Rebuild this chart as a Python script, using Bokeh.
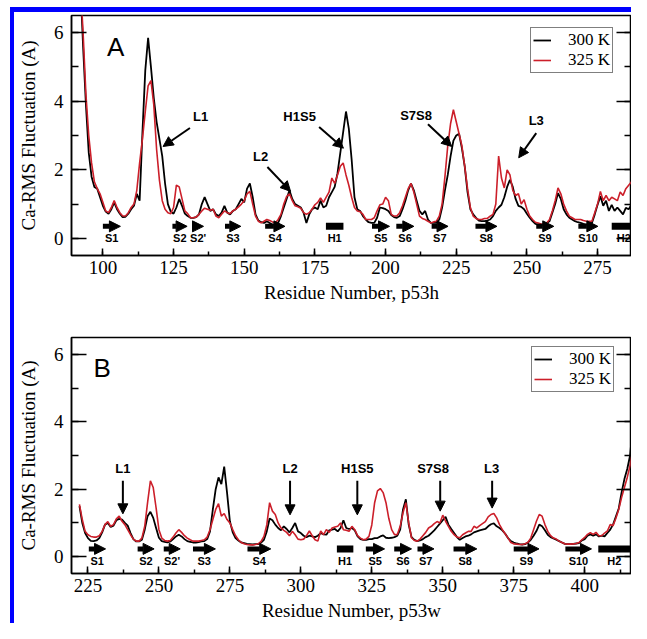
from bokeh.plotting import figure
from bokeh.layouts import column, row
from bokeh.models import (ColumnDataSource, Range1d, LinearAxis, SingleIntervalTicker,
                          Legend, LegendItem, Arrow, NormalHead, CustomJSTickFormatter, Spacer)
from bokeh.core.properties import value
from bokeh.embed import file_html
from bokeh.resources import INLINE

# ---------------- data: panel A (p53h) ----------------
res_a = list(range(92, 291))
rmsf_a_300 = [
    7.5, 5.6, 3.9, 2.5, 1.8, 1.5, 1.45, 1.2,
    0.95, 0.78, 0.72, 0.85, 1.05, 0.85, 0.72, 0.62, 0.63, 0.72,
    0.85, 0.95, 1.3, 1.1, 3.1, 4.9, 5.85, 5.0, 4.1, 3.4,
    2.9, 2.4, 1.6, 1.0, 0.78, 0.72, 0.9, 1.15, 0.95, 0.72,
    0.65, 0.6, 0.6, 0.62, 0.7, 1.0, 1.2, 1.0, 0.8, 0.85,
    0.7, 0.65, 0.75, 0.95, 0.75, 0.7, 0.8, 0.85, 1.0, 1.15,
    1.05, 1.45, 1.6, 1.2, 0.7, 0.52, 0.47, 0.45, 0.5, 0.45,
    0.4, 0.4, 0.45, 0.65, 0.9, 1.15, 1.4, 1.15, 1.0, 0.95,
    0.9, 0.75, 0.45, 0.7, 0.85, 0.9, 0.85, 1.1, 0.9, 0.95,
    1.2, 1.35, 1.5, 1.9, 2.5, 3.1, 3.7, 3.2, 2.3, 1.2,
    0.85, 0.8, 0.65, 0.55, 0.47, 0.45, 0.45, 0.6, 0.9, 0.88,
    0.85, 0.8, 0.68, 0.62, 0.6, 0.65, 0.85, 1.1, 1.4, 1.6,
    1.4, 1.1, 0.8, 0.7, 0.8, 0.55, 0.45, 0.45, 0.45, 0.55,
    0.9, 1.4, 1.85, 2.4, 2.85, 3.0, 3.05, 2.63, 2.1, 1.35,
    0.85, 0.7, 0.6, 0.52, 0.5, 0.5, 0.52, 0.55, 0.65, 0.8,
    0.9, 0.98, 1.2, 1.5, 1.71, 1.5, 1.15, 0.95, 0.92, 0.85,
    0.72, 0.6, 0.5, 0.42, 0.4, 0.4, 0.4, 0.45, 0.5, 0.75,
    1.0, 1.32, 1.15, 0.85, 0.7, 0.6, 0.55, 0.5, 0.47, 0.45,
    0.42, 0.4, 0.42, 0.45, 0.7, 0.98, 1.23, 0.95, 1.1, 0.8,
    0.98, 0.8, 0.9, 0.8, 0.7, 0.89, 0.85, 0.98, 1.4, 1.9, 2.3,
]
rmsf_a_325 = [
    7.5, 6.0, 4.2, 3.0, 2.2, 1.65, 1.45, 1.3,
    1.05, 0.8, 0.75, 0.9, 1.1, 0.9, 0.75, 0.65, 0.65, 0.75,
    0.9, 1.0, 1.4, 2.2, 2.9, 3.7, 4.45, 4.6, 3.9, 2.6,
    1.7, 1.1, 0.85, 0.75, 0.72, 0.9, 1.55, 1.5, 1.15, 0.8,
    0.72, 0.6, 0.6, 0.62, 0.7, 0.8, 0.88, 0.85, 0.82, 0.85,
    0.65, 0.6, 0.7, 0.8, 0.75, 0.72, 0.8, 0.85, 0.92, 1.0,
    1.1, 1.3, 1.37, 1.0, 0.65, 0.5, 0.45, 0.5, 0.55, 0.52,
    0.48, 0.45, 0.55, 0.7, 1.0, 1.22, 1.3, 1.1, 0.95, 0.92,
    0.88, 0.75, 0.7, 0.75, 0.85, 0.98, 1.05, 1.18, 1.05, 1.2,
    1.35, 1.76, 1.6, 1.85, 2.1, 2.2, 1.85, 1.55, 1.2, 0.9,
    0.8, 0.78, 0.7, 0.55, 0.55, 0.55, 0.6, 0.8, 0.98, 1.0,
    1.2, 1.1, 0.7, 0.65, 0.65, 0.75, 0.95, 1.2, 1.45, 1.6,
    1.35, 1.0, 0.65, 0.58, 0.55, 0.5, 0.45, 0.48, 0.5, 0.65,
    1.0, 1.8, 2.7, 3.35, 3.75, 3.4, 3.05, 2.7, 2.1, 1.45,
    0.9, 0.65, 0.58, 0.55, 0.55, 0.58, 0.58, 0.65, 0.7, 1.0,
    2.4, 1.76, 1.47, 2.0, 1.85, 1.4, 1.25, 1.3, 1.0, 1.13,
    0.85, 0.65, 0.55, 0.47, 0.45, 0.42, 0.4, 0.45, 0.55, 0.8,
    1.1, 1.47, 1.3, 1.0, 0.8, 0.65, 0.6, 0.55, 0.55, 0.55,
    0.52, 0.5, 0.5, 0.5, 0.75, 1.0, 1.37, 1.1, 1.25, 1.1,
    1.2, 1.15, 1.1, 1.35, 1.25, 1.45, 1.55, 1.65, 2.2, 2.6, 2.6,
]

# ---------------- data: panel B (p53w) ----------------
res_b = list(range(222, 419))
rmsf_b_300 = [
    1.5, 1.0, 0.7, 0.55, 0.47, 0.46, 0.48, 0.55,
    0.72, 0.95, 1.0, 0.88, 0.92, 1.08, 1.12, 1.1, 1.0, 0.92,
    0.7, 0.52, 0.45, 0.45, 0.5, 0.8, 1.2, 1.33, 1.15, 0.85,
    0.56, 0.46, 0.44, 0.42, 0.45, 0.52, 0.6, 0.65, 0.6, 0.52,
    0.46, 0.44, 0.42, 0.42, 0.43, 0.45, 0.46, 0.52, 0.75, 1.4,
    2.0, 2.35, 2.15, 2.67, 1.9, 1.05, 0.72, 0.55, 0.48, 0.42,
    0.4, 0.38, 0.37, 0.36, 0.37, 0.37, 0.42, 0.5, 0.75, 1.13,
    1.08, 0.95, 0.85, 0.78, 0.9, 0.82, 0.72, 0.85, 1.0, 0.75,
    0.7, 0.62, 0.58, 0.62, 0.6, 0.58, 0.62, 0.7, 0.66, 0.65,
    0.78, 0.8, 0.82, 0.75, 0.85, 1.08, 0.85, 0.82, 0.85, 0.78,
    0.6, 0.52, 0.5, 0.5, 0.52, 0.52, 0.55, 0.55, 0.6, 0.63,
    0.56, 0.55, 0.56, 0.58, 0.62, 0.8, 1.4, 1.7, 0.95, 0.58,
    0.5, 0.46, 0.48, 0.52, 0.58, 0.62, 0.7, 0.78, 0.88, 0.98,
    1.08, 1.18, 0.95, 0.82, 0.7, 0.58, 0.5, 0.55, 0.6, 0.62,
    0.66, 0.72, 0.75, 0.78, 0.8, 0.82, 0.9, 0.96, 0.99, 0.9,
    0.85, 0.78, 0.68, 0.55, 0.46, 0.42, 0.39, 0.37, 0.36, 0.37,
    0.42, 0.5, 0.62, 0.76, 0.95, 0.9, 0.78, 0.65, 0.58, 0.54,
    0.5, 0.46, 0.42, 0.38, 0.37, 0.37, 0.38, 0.39, 0.4, 0.48,
    0.52, 0.62, 0.66, 0.62, 0.66, 0.6, 0.62, 0.6, 0.7, 0.8,
    0.95, 1.19, 1.43, 1.9, 2.3, 2.6, 3.0, 3.9, 5.4,
]
rmsf_b_325 = [
    1.55, 1.1, 0.75, 0.65, 0.6, 0.58, 0.58, 0.62,
    0.75, 0.95, 1.04, 0.9, 0.95, 1.12, 1.2, 1.05, 0.95, 0.8,
    0.65, 0.52, 0.46, 0.46, 0.55, 0.9, 1.6, 2.25, 2.05, 1.45,
    0.8, 0.55, 0.48, 0.46, 0.48, 0.58, 0.7, 0.8, 0.72, 0.62,
    0.55, 0.5, 0.46, 0.46, 0.46, 0.48, 0.5, 0.58, 0.8, 1.1,
    1.4, 1.57, 1.2, 1.28, 1.1, 1.0, 0.8, 0.62, 0.5, 0.42,
    0.38, 0.36, 0.35, 0.35, 0.36, 0.38, 0.45, 0.6, 0.94, 1.6,
    1.35, 1.25, 1.0, 0.85, 0.78, 0.72, 0.62, 0.75, 0.65, 0.52,
    0.5, 0.52, 0.62, 0.76, 0.62, 0.5, 0.46, 0.76, 0.65, 0.8,
    0.72, 0.85, 0.88, 0.9, 1.0, 0.8, 0.78, 0.75, 0.9, 0.8,
    0.62, 0.55, 0.5, 0.52, 0.6, 0.94, 1.6, 1.95, 2.02, 1.9,
    1.6, 1.13, 0.8, 0.65, 0.66, 0.9, 1.3, 1.6, 1.0, 0.56,
    0.48, 0.46, 0.52, 0.62, 0.72, 0.85, 0.9, 0.98, 1.04, 1.0,
    1.23, 1.05, 0.9, 0.75, 0.65, 0.58, 0.56, 0.65, 0.7, 0.75,
    0.75, 0.9, 0.85, 0.92, 0.98, 1.04, 1.18, 1.25, 1.28, 1.15,
    0.95, 0.8, 0.68, 0.55, 0.42, 0.38, 0.37, 0.36, 0.36, 0.38,
    0.42, 0.55, 0.8, 1.05, 1.25, 1.2, 0.95, 0.75, 0.62, 0.55,
    0.52, 0.46, 0.42, 0.38, 0.37, 0.37, 0.38, 0.39, 0.42, 0.5,
    0.57, 0.66, 0.71, 0.66, 0.72, 0.62, 0.62, 0.7, 0.76, 0.95,
    0.92, 1.14, 1.4, 1.75, 2.05, 2.35, 2.7, 3.2, 3.55,
]

series_labels = ["300 K", "325 K"]

# secondary-structure elements (residue start, residue end)
ss_a_names = ["S1", "S2", "S2'", "S3", "S4", "H1", "S5", "S6", "S7", "S8", "S9", "S10", "H2"]
ss_a_start = [100.0, 124.6, 131.8, 143.2, 157.4, 178.9, 195.2, 203.8, 216.3, 231.8, 253.3, 268.2, 280.0]
ss_a_end = [106.2, 129.8, 135.6, 148.8, 164.4, 185.1, 201.4, 210.0, 222.1, 239.4, 259.5, 275.1, 288.6]

ss_b_names = ["S1", "S2", "S2'", "S3", "S4", "H1", "S5", "S6", "S7", "S8", "S9", "S10", "H2"]
ss_b_start = [225.3, 242.5, 251.7, 262.0, 281.2, 312.7, 322.9, 332.9, 341.1, 353.8, 375.0, 393.2, 404.8]
ss_b_end = [231.2, 248.3, 257.5, 269.9, 289.4, 318.5, 329.5, 339.0, 346.9, 362.0, 383.9, 402.4, 416.1]

# loop call-outs
loop_a_names = ["L1", "H1S5", "L2", "S7S8", "L3"]
loop_a_tx = [134.6, 169.6, 155.8, 210.8, 253.3]
loop_a_ty = [3.54, 3.54, 2.38, 3.59, 3.45]
loop_a_x0 = [130.8, 176.5, 158.2, 215.0, 253.3]
loop_a_y0 = [3.22, 3.25, 2.08, 3.33, 3.07]
loop_a_x1 = [121.3, 185.1, 166.4, 223.4, 247.1]
loop_a_y1 = [2.68, 2.63, 1.37, 2.68, 2.35]

loop_b_names = ["L1", "L2", "H1S5", "S7S8", "L3"]
loop_b_tx = [237.3, 296.2, 319.9, 346.6, 367.2]
loop_b_ty = [2.6, 2.6, 2.6, 2.6, 2.6]
loop_b_x0 = [237.3, 296.2, 319.9, 349.1, 367.4]
loop_b_y0 = [2.25, 2.25, 2.25, 2.25, 2.25]
loop_b_x1 = [237.3, 296.2, 319.9, 349.1, 367.4]
loop_b_y1 = [1.27, 1.24, 1.24, 1.35, 1.44]

SERIF = "Liberation Serif"
SANS = "Liberation Sans"
RED = "#cc1f2a"
BLUE = "#0000ff"
FIG_W = 617


def make_panel(res, v300, v325, xr, height, btop, bbottom, xlabel, letter, letter_xy,
               ss_names, ss_start, ss_end, ss_arrow_y, ss_label_y,
               lp_names, lp_tx, lp_ty, lp_x0, lp_y0, lp_x1, lp_y1, legend_loc):
    p = figure(width=FIG_W, height=height, x_range=Range1d(*xr), y_range=Range1d(-0.5, 6.5),
               output_backend="svg", toolbar_location=None,
               min_border_left=51, min_border_right=0, min_border_top=btop,
               min_border_bottom=bbottom, x_axis_label=xlabel,
               y_axis_label="Ca-RMS Fluctuation (A)")
    p.grid.visible = False
    p.background_fill_color = "white"
    p.border_fill_color = "white"
    p.outline_line_color = "black"
    p.outline_line_width = 1.5

    xa = p.xaxis[0]
    xa.ticker = SingleIntervalTicker(interval=25, num_minor_ticks=2)
    ya = p.yaxis[0]
    ya.ticker = SingleIntervalTicker(interval=2, num_minor_ticks=2)
    for ax in (xa, ya):
        ax.axis_line_width = 1.5
        ax.major_tick_out = 0
        ax.minor_tick_out = 0
        ax.major_tick_line_width = 1.5
        ax.minor_tick_line_width = 1.5
        ax.major_label_text_font = SERIF
        ax.major_label_text_font_size = "19px"
        ax.major_label_text_color = "black"
        ax.axis_label_text_font = SERIF
        ax.axis_label_text_font_size = "19px"
        ax.axis_label_text_font_style = "normal"
        ax.axis_label_text_color = "black"
    xa.major_tick_in = 7
    xa.minor_tick_in = 4
    xa.major_label_standoff = 5
    xa.axis_label_standoff = 5
    ya.major_tick_in = 15
    ya.minor_tick_in = 7
    ya.major_label_standoff = 8
    ya.axis_label_standoff = 12

    ra = LinearAxis(ticker=SingleIntervalTicker(interval=2, num_minor_ticks=2),
                    formatter=CustomJSTickFormatter(code="return ''"),
                    major_tick_in=15, major_tick_out=0, minor_tick_in=7, minor_tick_out=0,
                    major_label_standoff=0, axis_line_width=1.5,
                    major_tick_line_width=1.5, minor_tick_line_width=1.5)
    p.add_layout(ra, "right")

    r300 = p.line(res, v300, line_color="black", line_width=1.8)
    r325 = p.line(res, v325, line_color=RED, line_width=1.6)

    # secondary structure
    strands = [i for i, n in enumerate(ss_names) if n.startswith("S")]
    helices = [i for i, n in enumerate(ss_names) if n.startswith("H")]
    s_src = ColumnDataSource(dict(x0=[ss_start[i] for i in strands],
                                  x1=[ss_end[i] for i in strands],
                                  y=[ss_arrow_y] * len(strands)))
    p.add_layout(Arrow(source=s_src, x_start="x0", y_start="y", x_end="x1", y_end="y",
                       line_width=5, line_color="black",
                       end=NormalHead(size=11, fill_color="black", line_color="black",
                                      line_width=1)))
    p.segment(x0=[ss_start[i] for i in helices], x1=[ss_end[i] for i in helices],
              y0=[ss_arrow_y] * len(helices), y1=[ss_arrow_y] * len(helices),
              line_width=7, line_color="black", line_cap="butt")
    p.text(x=[(a + b) / 2 for a, b in zip(ss_start, ss_end)], y=[ss_label_y] * len(ss_names),
           text=ss_names, text_font=value(SANS), text_font_style="bold",
           text_font_size="11px", text_align="center", text_baseline="middle",
           text_color="black")

    # loop call-outs
    p.text(x=lp_tx, y=lp_ty, text=lp_names, text_font=value(SANS), text_font_style="bold",
           text_font_size="13px", text_align="center", text_baseline="middle",
           text_color="black")
    l_src = ColumnDataSource(dict(x0=lp_x0, y0=lp_y0, x1=lp_x1, y1=lp_y1))
    p.add_layout(Arrow(source=l_src, x_start="x0", y_start="y0", x_end="x1", y_end="y1",
                       line_width=2, line_color="black",
                       end=NormalHead(size=10, fill_color="black", line_color="black",
                                      line_width=1)))

    p.text(x=[letter_xy[0]], y=[letter_xy[1]], text=[letter], text_font=value(SANS),
           text_font_size="26px", text_align="center", text_baseline="middle",
           text_color="black")

    legend = Legend(items=[LegendItem(label=series_labels[0], renderers=[r300]),
                           LegendItem(label=series_labels[1], renderers=[r325])],
                    location=legend_loc, orientation="vertical",
                    label_text_font=SERIF, label_text_font_size="17px",
                    label_text_color="black",
                    glyph_width=18, glyph_height=16, label_height=16,
                    label_standoff=17, padding=2, spacing=0, margin=0,
                    border_line_color="black", border_line_width=1.5,
                    background_fill_color="white", background_fill_alpha=1.0)
    p.add_layout(legend, "center")
    return p


pA = make_panel(res_a, rmsf_a_300, rmsf_a_325, (88.9, 287.0), 298, 3, 55,
                "Residue Number, p53h", "A", (104.5, 5.59),
                ss_a_names, ss_a_start, ss_a_end, 0.35, 0.0,
                loop_a_names, loop_a_tx, loop_a_ty, loop_a_x0, loop_a_y0, loop_a_x1, loop_a_y1,
                (459, 182))
pB = make_panel(res_b, rmsf_b_300, rmsf_b_325, (219.2, 416.5), 313, 27, 48,
                "Residue Number, p53w", "B", (230.0, 5.6),
                ss_b_names, ss_b_start, ss_b_end, 0.23, -0.14,
                loop_b_names, loop_b_tx, loop_b_ty, loop_b_x0, loop_b_y0, loop_b_x1, loop_b_y1,
                (460, 181))

top_gap = Spacer(width=631, height=7)
left_gap = Spacer(width=10, height=616)
left_bar = Spacer(width=4, height=616, styles={"background-color": BLUE})
top_bar = Spacer(width=FIG_W, height=5, styles={"background-color": BLUE})
layout = column(top_gap,
                row(left_gap, left_bar, column(top_bar, pA, pB, spacing=0), spacing=0),
                spacing=0)

open("out.html", "w").write(file_html(layout, INLINE))
